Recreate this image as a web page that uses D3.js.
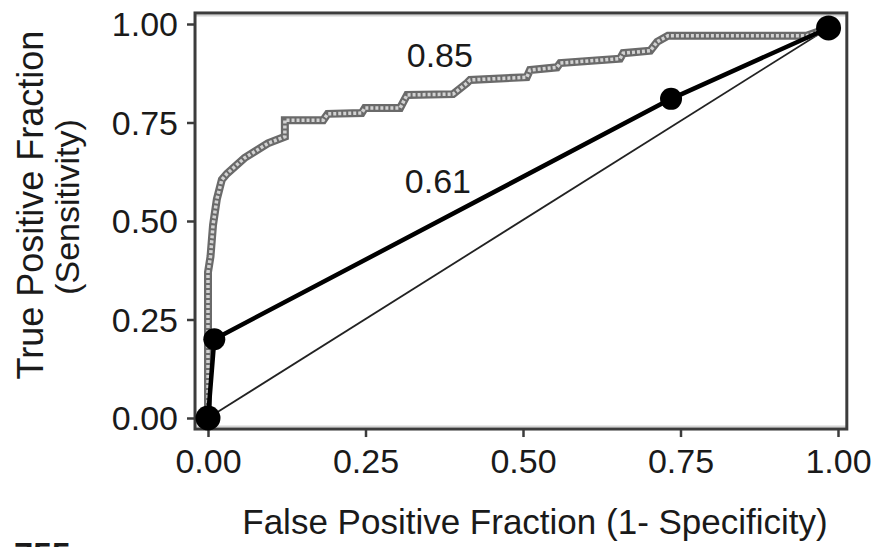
<!DOCTYPE html>
<html>
<head>
<meta charset="utf-8">
<script src="https://cdn.jsdelivr.net/npm/d3@7/dist/d3.min.js"></script>
<style>
  html, body { margin: 0; padding: 0; background: #fff; }
  svg { display: block; }
  text { font-family: "Liberation Sans", Arial, Helvetica, sans-serif; fill: #1a1a1a; }
</style>
</head>
<body>
<svg id="chart" width="877" height="547"></svg>
<script>
// ---- data ----
const tickValues = [0, 0.25, 0.5, 0.75, 1];
const xTitle = "False Positive Fraction (1- Specificity)";
const yTitle1 = "True Positive Fraction";
const yTitle2 = "(Sensitivity)";

// continuous marker ROC curve (grey, AUC 0.85): [FPF, TPF]
const curveFPF = [0, 0, 0.0, 0.004, 0.008, 0.014, 0.022, 0.03, 0.058, 0.095, 0.122, 0.122, 0.183, 0.19, 0.244, 0.249, 0.305, 0.316, 0.389, 0.411, 0.416, 0.506, 0.511, 0.554, 0.559, 0.654, 0.659, 0.702, 0.713, 0.73, 0.95, 0.985];
const curveTPF = [0, 0.01, 0.37, 0.41, 0.49, 0.555, 0.605, 0.62, 0.66, 0.697, 0.714, 0.756, 0.756, 0.772, 0.774, 0.787, 0.787, 0.82, 0.822, 0.85, 0.858, 0.865, 0.883, 0.89, 0.901, 0.912, 0.926, 0.932, 0.955, 0.97, 0.97, 0.99];

// categorical ROC (black, AUC 0.61)
const catFPF = [0, 0.01, 0.735, 0.985];
const catTPF = [0, 0.20, 0.81, 0.99];
const catBig = [true, false, false, true];

// chance line
const chanceFPF = [0, 0.985];
const chanceTPF = [0, 0.99];

const aucLabels = [
  { text: "0.85", fpf: 0.368, tpf: 0.89 },
  { text: "0.61", fpf: 0.365, tpf: 0.572 }
];

// ---- drawing ----
const svg = d3.select("#chart");
const x = d3.scaleLinear().domain([0, 1]).range([208, 838]);
const y = d3.scaleLinear().domain([0, 1]).range([418, 24]);

const x0 = x(-0.0206), x1 = x(1.014), yTop = y(1.028), yBot = y(-0.028);

// frame
svg.append("line").attr("x1", x0).attr("x2", x1).attr("y1", yTop + 2.5).attr("y2", yTop + 2.5)
  .attr("stroke", "#d4d4d4").attr("stroke-width", 2);
svg.append("line").attr("x1", x0).attr("x2", x1).attr("y1", yBot - 2.5).attr("y2", yBot - 2.5)
  .attr("stroke", "#d4d4d4").attr("stroke-width", 2);
svg.append("rect").attr("x", x0).attr("y", yTop).attr("width", x1 - x0).attr("height", yBot - yTop)
  .attr("fill", "none").attr("stroke", "#3c3c3c").attr("stroke-width", 3);

// axes
const yAxis = svg.append("g").attr("transform", `translate(${x0},0)`)
  .call(d3.axisLeft(y).tickValues(tickValues).tickFormat(d3.format(".2f")).tickSize(8).tickPadding(9));
const xAxis = svg.append("g").attr("transform", `translate(0,${yBot})`)
  .call(d3.axisBottom(x).tickValues(tickValues).tickFormat(d3.format(".2f")).tickSize(8).tickPadding(12));
[xAxis, yAxis].forEach(g => {
  g.select(".domain").remove();
  g.selectAll(".tick line").attr("stroke", "#3c3c3c").attr("stroke-width", 2.5);
  g.selectAll(".tick text").attr("font-size", 34).attr("fill", "#1a1a1a")
    .style("font-family", '"Liberation Sans", Arial, sans-serif');
});
yAxis.selectAll(".tick text").attr("dy", "0.35em");

// chance line
const line = d3.line().x(d => x(d[0])).y(d => y(d[1]));
svg.append("path").datum(chanceFPF.map((f, i) => [f, chanceTPF[i]]))
  .attr("d", line).attr("fill", "none").attr("stroke", "#222").attr("stroke-width", 1.8);

// grey curve: chain of small squares
const curveData = curveFPF.map((f, i) => [f, curveTPF[i]]);
svg.append("path").datum(curveData).attr("d", line).attr("fill", "none")
  .attr("stroke", "#6a6a6a").attr("stroke-width", 8).attr("stroke-linejoin", "miter");
svg.append("path").datum(curveData).attr("d", line).attr("fill", "none")
  .attr("stroke", "#d2d2d2").attr("stroke-width", 3.5).attr("stroke-dasharray", "3,2");

// categorical ROC
const catData = catFPF.map((f, i) => [f, catTPF[i], catBig[i]]);
svg.append("path").datum(catData).attr("d", line).attr("fill", "none")
  .attr("stroke", "#000").attr("stroke-width", 4.5).attr("stroke-linejoin", "round");
svg.selectAll("circle.cat").data(catData).join("circle").attr("class", "cat")
  .attr("cx", d => x(d[0])).attr("cy", d => y(d[1])).attr("r", d => d[2] ? 12.5 : 11)
  .attr("fill", "#000");

// AUC labels
svg.selectAll("text.auc").data(aucLabels).join("text").attr("class", "auc")
  .attr("x", d => x(d.fpf)).attr("y", d => y(d.tpf)).attr("text-anchor", "middle")
  .attr("font-size", 34).text(d => d.text);

// axis titles
svg.append("text").attr("x", 535).attr("y", 534).attr("text-anchor", "middle")
  .attr("font-size", 35).text(xTitle);
svg.append("text").attr("transform", "translate(43,205) rotate(-90)").attr("text-anchor", "middle")
  .attr("font-size", 36).text(yTitle1);
svg.append("text").attr("transform", "translate(79,207) rotate(-90)").attr("text-anchor", "middle")
  .attr("font-size", 34).text(yTitle2);

// cut-off page text at bottom-left (only its top shows, as in the reference)
svg.append("text").attr("x", 14).attr("y", 566).attr("font-size", 34).attr("font-weight", "bold")
  .attr("fill", "#000").text("755");
</script>
</body>
</html>
